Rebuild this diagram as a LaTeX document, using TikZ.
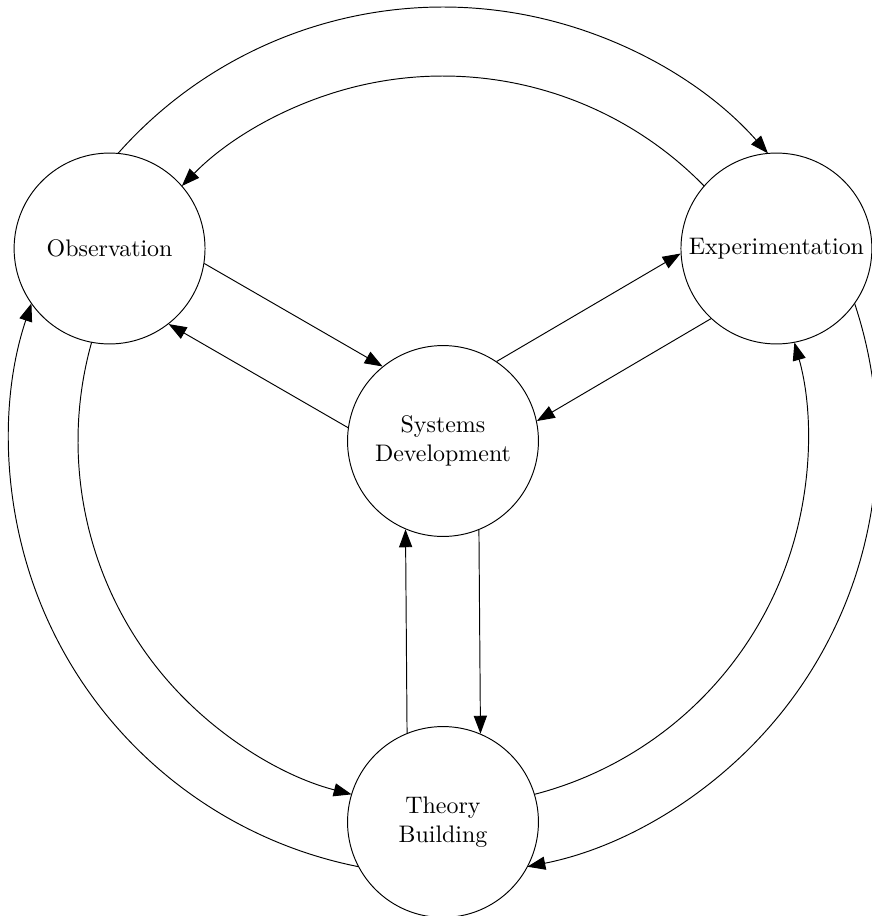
\documentclass[tikz,border=0pt]{standalone}
\usetikzlibrary{arrows.meta}
\begin{document}
\begin{tikzpicture}[x=0.418pt,y=0.418pt,
  stage/.style={circle,draw,minimum size=79.8pt,inner sep=0pt,align=center,font=\normalsize},
  flow/.style={-{Triangle[length=7.5pt,width=5.5pt]}},
]
\useasboundingbox (-443,-475) rectangle (429,441);
\node[stage] (sd) at (0,0) {Systems\\Development};
\node[stage] (obs) at (150:385) {Observation};
\node[stage] (exp) at (30:385) {Experimentation};
\node[stage] (tb) at (270:381) {Theory\\Building};

% straight connectors
\draw[flow] (obs.-9.8) -- (sd.129.8);
\draw[flow] (sd.172.8) -- (obs.-52.8);
\draw[flow] (sd.56.8) -- (exp.183.2);
\draw[flow] (exp.227.05) -- (sd.12.95);
\draw[flow] (tb.112.1) -- (sd.247.9);
\draw[flow] (sd.292.8) -- (tb.67.2);

% arc start points (on the borders of the nodes)
\coordinate (topout) at (138.49:434);
\coordinate (topin) at (44.32:365);
\coordinate (rightout) at (18.49:434);
\coordinate (rightin) at (-75.5:365);
\coordinate (leftout) at (258.79:434);
\coordinate (leftin) at (164.32:365);

% arcs
\draw[flow] (topout) arc[start angle=138.49, end angle=41.51, radius=434];
\draw[flow] (topin) arc[start angle=44.32, end angle=135.68, radius=365];
\draw[flow] (rightout) arc[start angle=18.49, end angle=-78.79, radius=434];
\draw[flow] (rightin) arc[start angle=-75.5, end angle=15.68, radius=365];
\draw[flow] (leftout) arc[start angle=258.79, end angle=161.51, radius=434];
\draw[flow] (leftin) arc[start angle=164.32, end angle=255.5, radius=365];
\end{tikzpicture}
\end{document}
